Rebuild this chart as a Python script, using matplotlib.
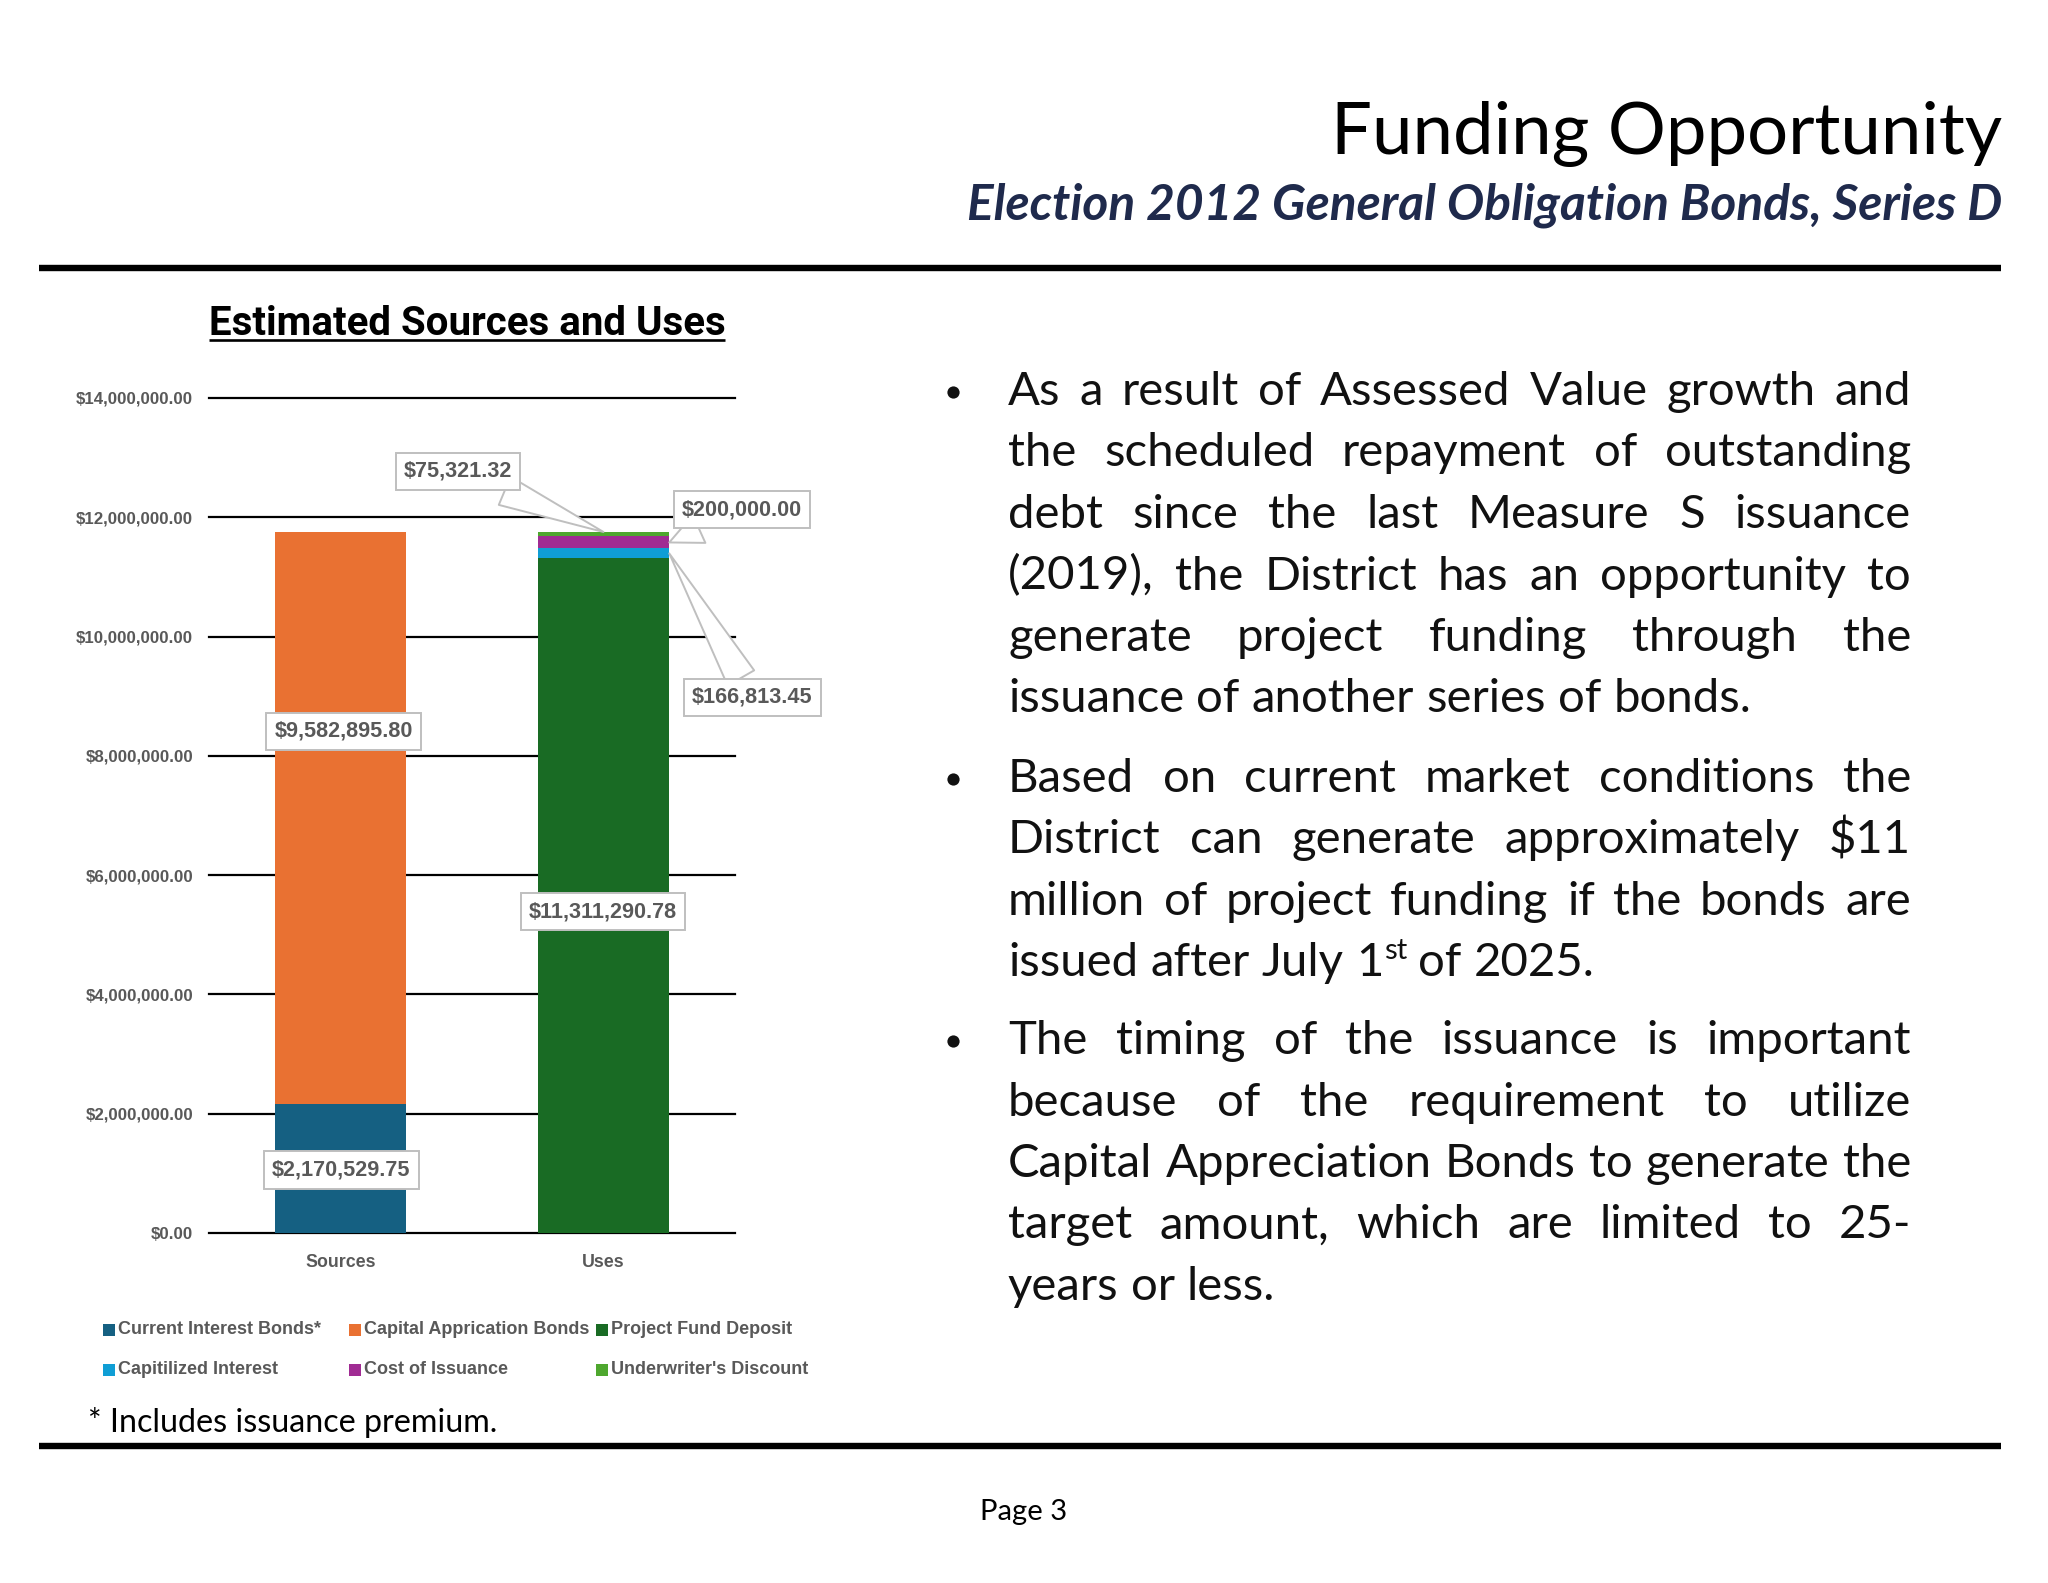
import matplotlib
matplotlib.use("Agg")
import matplotlib.pyplot as plt
import numpy as np
from matplotlib.lines import Line2D
from matplotlib.patches import Rectangle
from matplotlib.ticker import FuncFormatter

# ---------------- data ----------------
categories = ["Sources", "Uses"]
series_names = ["Current Interest Bonds*", "Capital Apprication Bonds", "Project Fund Deposit",
                "Capitilized Interest", "Cost of Issuance", "Underwriter's Discount"]
current_interest_bonds = [2170529.75, 0.0]
capital_apprication_bonds = [9582895.80, 0.0]
project_fund_deposit = [0.0, 11311290.78]
capitilized_interest = [0.0, 166813.45]
cost_of_issuance = [0.0, 200000.00]
underwriters_discount = [0.0, 75321.32]
series_colors = ["#156082", "#E97132", "#196B24", "#0F9ED5", "#A02B93", "#4EA72E"]
y_ticks = [0, 2000000, 4000000, 6000000, 8000000, 10000000, 12000000, 14000000]

title = "Funding Opportunity"
subtitle = "Election 2012 General Obligation Bonds, Series D"
chart_title = "Estimated Sources and Uses"
footnote = "* Includes issuance premium."
page_label = "Page 3"
bullet_paragraphs = [
    ["As a result of Assessed Value growth and",
     "the scheduled repayment of outstanding",
     "debt since the last Measure S issuance",
     "(2019), the District has an opportunity to",
     "generate project funding through the",
     "issuance of another series of bonds."],
    ["Based on current market conditions the",
     "District can generate approximately $11",
     "million of project funding if the bonds are",
     "issued after July 1^st of 2025."],
    ["The timing of the issuance is important",
     "because of the requirement to utilize",
     "Capital Appreciation Bonds to generate the",
     "target amount, which are limited to 25-",
     "years or less."],
]

series_values = [current_interest_bonds, capital_apprication_bonds, project_fund_deposit,
                 capitilized_interest, cost_of_issuance, underwriters_discount]

# ---------------- figure ----------------
W, H, DPI = 2048, 1583, 100
fig = plt.figure(figsize=(W / DPI, H / DPI), dpi=DPI)
fig.patch.set_facecolor("white")
renderer = fig.canvas.get_renderer()

BODY = "Lato"
CHART = "Liberation Sans"
GRAY = "#595959"


def fx(x):
    return x / W


def fy(y):
    return 1 - y / H


def text_width(s, **kw):
    t = fig.text(0, 0, s, parse_math=False, **kw)
    w = t.get_window_extent(renderer).width
    t.remove()
    return w


def fit_size(s, target, **kw):
    return 20.0 * target / text_width(s, fontsize=20, **kw)


# ---------------- header ----------------
ts = fit_size(title, 673, family=BODY)
fig.text(fx(2002), fy(154), title, ha="right", va="baseline", fontsize=ts, family=BODY,
         color="black", parse_math=False)
ss = fit_size(subtitle, 1033, family=BODY, weight="bold", style="italic")
fig.text(fx(2002), fy(219), subtitle, ha="right", va="baseline", fontsize=ss, family=BODY,
         weight="bold", style="italic", color="#1F2A4C", parse_math=False)

for yy in (268, 1446):
    fig.add_artist(Line2D([fx(39), fx(2001)], [fy(yy), fy(yy)], color="black", lw=4.6,
                          transform=fig.transFigure, solid_capstyle="butt"))

# ---------------- chart title ----------------
cs = fit_size(chart_title, 516, family="Roboto", weight="bold")
fig.text(fx(467), fy(335), chart_title, ha="center", va="baseline", fontsize=cs, family="Roboto",
         weight="bold", color="black", parse_math=False)
fig.add_artist(Line2D([fx(209), fx(725)], [fy(339.5), fy(339.5)], color="black", lw=1.9,
                      transform=fig.transFigure, solid_capstyle="butt"))

# ---------------- chart ----------------
ax = fig.add_axes([fx(209), fy(1233), (735 - 209) / W, (1233 - 398) / H])
x = np.arange(len(categories))
bottoms = []
bottom = np.zeros(len(categories))
for name, vals, col in zip(series_names, series_values, series_colors):
    vals = np.asarray(vals)
    ax.bar(x, vals, 0.5, bottom=bottom, color=col, label=name, zorder=3, linewidth=0)
    bottoms.append(bottom.copy())
    bottom = bottom + vals

ax.set_xlim(-0.5, 1.5)
ax.set_ylim(0, 14000000)
ax.set_yticks(y_ticks)
ax.yaxis.set_major_formatter(FuncFormatter(lambda v, p: "${:,.2f}".format(v)))
ax.set_xticks(x)
ax.set_xticklabels(categories)
ax.grid(axis="y", color="black", lw=1.6, zorder=0)
ax.grid(axis="x", visible=False)
ax.set_axisbelow(True)
for gl in ax.get_ygridlines():
    gl.set_clip_on(False)
for s in ax.spines.values():
    s.set_visible(False)
tick_fs = 12.2
ax.tick_params(axis="y", length=0, pad=11.5, labelsize=tick_fs, labelcolor=GRAY)
ax.tick_params(axis="x", length=0, pad=15, labelsize=12.8, labelcolor=GRAY)
for lab in ax.get_yticklabels() + ax.get_xticklabels():
    lab.set_family(CHART)
    lab.set_weight("bold")

# data labels
lab_fs = 15.6
box = dict(boxstyle="square,pad=0.38", fc="white", ec="#BFBFBF", lw=1.4)
# (series index, category index, label centre in data coords, anchor)
label_specs = [
    (0, 0, (0.002, 1060000), "center"),
    (1, 0, (0.013, 8410000), "center"),
    (2, 1, (0.998, 5390000), "center"),
    (3, 1, (1.565, 8980000), "right"),
    (4, 1, (1.527, 12130000), "right"),
    (5, 1, (0.447, 12770000), "top"),
]
for si, ci, pos, anchor in label_specs:
    v = series_values[si][ci]
    b = bottoms[si][ci]
    txt = "${:,.2f}".format(v)
    kw = dict(xytext=pos, textcoords="data", ha="center", va="center", fontsize=lab_fs,
              family=CHART, weight="bold", color=GRAY, bbox=box, annotation_clip=False,
              zorder=6)
    if anchor == "center":
        ax.annotate(txt, xy=pos, xycoords="data", **kw)
    else:
        if anchor == "top":
            xy = (x[ci], b + v)
        else:
            xy = (x[ci] + 0.25, b + v / 2)
        ax.annotate(txt, xy=xy, xycoords="data",
                    arrowprops=dict(arrowstyle="wedge,tail_width=1.1,shrink_factor=0.5",
                                    fc="white", ec="#BFBFBF", lw=1.4, mutation_scale=20,
                                    shrinkA=0, shrinkB=0), **kw)

# legend (manual layout, two rows of three)
leg_cols = [103, 349, 596]
leg_rows = [1330, 1370]
leg_fs = fit_size(series_names[0], 203, family=CHART, weight="bold")
for i, (name, col) in enumerate(zip(series_names, series_colors)):
    r, c = divmod(i, 3)
    lx, ly = leg_cols[c], leg_rows[r]
    fig.add_artist(Rectangle((fx(lx), fy(ly + 6)), 12 / W, 12 / H, transform=fig.transFigure,
                             facecolor=col, edgecolor="none"))
    fig.text(fx(lx + 15), fy(ly), name, ha="left", va="center", fontsize=leg_fs, family=CHART,
             weight="bold", color=GRAY, parse_math=False)

# footnote
fs_ = fit_size(footnote, 410, family=BODY)
fig.text(fx(88), fy(1432), footnote, ha="left", va="baseline", fontsize=fs_, family=BODY,
         color="black", parse_math=False)

# page label
ps = fit_size(page_label, 87, family=BODY)
fig.text(fx(1024), fy(1520), page_label, ha="center", va="baseline", fontsize=ps, family=BODY,
         color="black", parse_math=False)

# ---------------- bullet text (justified) ----------------
body_fs = fit_size(bullet_paragraphs[0][-1], 745, family=BODY)
X0, X1 = 1008, 1911
para_first_baseline = [405, 792, 1054]
pitch = 61.5
space_w = text_width("n n", fontsize=body_fs, family=BODY) - text_width("nn", fontsize=body_fs, family=BODY)
sup_fs = body_fs * 0.62
ink = "#111111"


def word_width(w):
    if "^" in w:
        base, sup = w.split("^")
        return text_width(base, fontsize=body_fs, family=BODY) + text_width(sup, fontsize=sup_fs, family=BODY)
    return text_width(w, fontsize=body_fs, family=BODY)


def draw_word(w, xx, yy):
    if "^" in w:
        base, sup = w.split("^")
        fig.text(fx(xx), fy(yy), base, ha="left", va="baseline", fontsize=body_fs, family=BODY,
                 color=ink, parse_math=False)
        bw = text_width(base, fontsize=body_fs, family=BODY)
        fig.text(fx(xx + bw + 1), fy(yy - body_fs * 100 / 72 * 0.36), sup, ha="left", va="baseline",
                 fontsize=sup_fs, family=BODY, color=ink, parse_math=False)
    else:
        fig.text(fx(xx), fy(yy), w, ha="left", va="baseline", fontsize=body_fs, family=BODY,
                 color=ink, parse_math=False)


for para, y0 in zip(bullet_paragraphs, para_first_baseline):
    # round bullet centred on the x-height of the first line
    fig.add_artist(Line2D([fx(953)], [fy(y0 - 13)], marker="o", markersize=8.8, color=ink,
                          markeredgewidth=0, linestyle="none", transform=fig.transFigure))
    for li, line in enumerate(para):
        words = line.split(" ")
        widths = [word_width(w) for w in words]
        last = li == len(para) - 1
        if not last and len(words) > 1:
            gap = (X1 - X0 - sum(widths)) / (len(words) - 1)
        else:
            gap = space_w
        xx = X0
        yy = y0 + li * pitch
        for w, wd in zip(words, widths):
            draw_word(w, xx, yy)
            xx += wd + gap

fig.savefig("out.png", dpi=DPI, facecolor="white")
